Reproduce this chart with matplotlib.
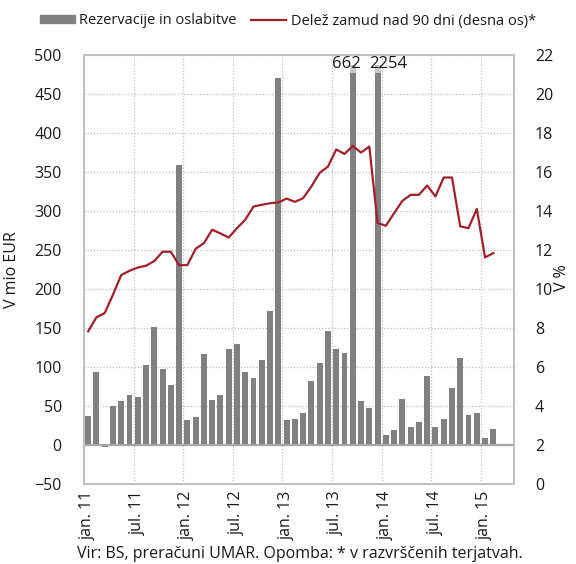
import numpy as np
import matplotlib
matplotlib.use("Agg")
import matplotlib.pyplot as plt
from matplotlib.ticker import MultipleLocator, FixedLocator
from matplotlib.patches import Patch
from matplotlib.lines import Line2D

plt.rcParams['font.family'] = ['Open Sans', 'DejaVu Sans']

# monthly data, jan 2011 - feb 2015 (axis runs through apr 2015)
n_cats = 52
tick_labels = ["jan. 11", "jul. 11", "jan. 12", "jul. 12", "jan. 13",
               "jul. 13", "jan. 14", "jul. 14", "jan. 15"]

# Rezervacije in oslabitve (mio EUR)
provisions = [36, 93, -3, 50, 56, 64, 61, 102, 151, 97, 76, 359,
              31, 35, 116, 57, 64, 122, 129, 93, 86, 108, 172, 471,
              31, 33, 41, 81, 105, 146, 123, 117, 662, 56, 47, 2254,
              12, 19, 59, 22, 29, 88, 22, 33, 72, 111, 38, 40,
              9, 20]

# Delez zamud nad 90 dni (%)
arrears = [7.81, 8.53, 8.75, 9.69, 10.70, 10.92, 11.09, 11.18, 11.42, 11.90, 11.90, 11.21,
           11.21, 12.05, 12.34, 13.03, 12.84, 12.63, 13.11, 13.54, 14.22, 14.31, 14.39, 14.43,
           14.63, 14.46, 14.65, 15.25, 15.95, 16.27, 17.15, 16.92, 17.33, 16.99, 17.30, 13.38,
           13.23, 13.88, 14.51, 14.82, 14.82, 15.30, 14.74, 15.71, 15.71, 13.20, 13.11, 14.10,
           11.61, 11.83]

bar_col = "#808080"
line_col = "#a3202a"
grid_col = "#bfbfbf"
txt_col = "#1a1a1a"

ymin, ymax = -50, 500

fig = plt.figure(figsize=(5.76, 5.64), dpi=100)
ax = fig.add_axes([84/576, 1 - 483.5/564, 430/576, 428.5/564])
ax2 = ax.twinx()

x = np.arange(len(provisions))
vals = np.array(provisions, dtype=float)
clipped = np.minimum(vals, ymax)
ax.bar(x, clipped, width=0.72, color=bar_col, zorder=3)

# broken bars: light band + white label box at the top
big = x[vals > ymax]
ax.bar(big, np.full(len(big), 10), bottom=ymax - 23, width=0.72, color="#c8c8c8", zorder=4)
ax.bar(big, np.full(len(big), 13), bottom=ymax - 13, width=0.74, color="white", zorder=4)
for i in big:
    ha = "right" if i == big[0] else "left"
    xpos = i + 1.0 if ha == "right" else i - 1.0
    ax.text(xpos, ymax - 1, f"{int(vals[i])}", ha=ha, va="top", fontsize=12,
            color=txt_col, zorder=6)

ax.axhline(0, color="#a6a6a6", lw=1.6, zorder=4)

ax.set_xlim(-0.5, n_cats - 0.5)
ax.set_ylim(ymin, ymax)
ax.yaxis.set_major_locator(MultipleLocator(50))
ax.xaxis.set_major_locator(FixedLocator(np.arange(0, 49, 6)))
ax.set_xticklabels(tick_labels, rotation=90)
ax.xaxis.set_minor_locator(FixedLocator(np.arange(0, 49, 6) - 0.5))
ax.grid(axis="y", which="major", color=grid_col, ls=(0, (1, 1.5)), lw=0.9, zorder=0)
ax.grid(axis="x", which="minor", color=grid_col, ls=(0, (1, 1.5)), lw=0.9, zorder=0)
ax.set_axisbelow(True)

ax2.plot(x, arrears, color=line_col, lw=1.6, zorder=5)
ax2.set_ylim(0, 22)
ax2.yaxis.set_major_locator(MultipleLocator(2))

for a in (ax, ax2):
    for s in a.spines.values():
        s.set_color(grid_col)
        s.set_linewidth(1.2)
    a.tick_params(which="both", length=0, labelsize=11.5, colors=txt_col)
ax.tick_params(axis="y", pad=16)
ax.tick_params(axis="x", pad=5)
ax2.tick_params(axis="y", pad=15)

ax.set_ylabel("V mio EUR", fontsize=11.5, color=txt_col)
ax.yaxis.set_label_coords(-0.148, 0.5)
ax2.set_ylabel("V %", fontsize=11.5, rotation=90, color=txt_col, va="center")
ax2.yaxis.set_label_coords((562 - 84) / 430, 0.48)

handles = [Patch(color=bar_col), Line2D([], [], color=line_col, lw=1.6)]
fig.legend(handles, ["Rezervacije in oslabitve", "Delež zamud nad 90 dni (desna os)*"],
           loc="center", bbox_to_anchor=(0.5, 1 - 21/564), ncol=2, frameon=False,
           fontsize=10.5, handlelength=2.4, handleheight=0.5, handletextpad=0.3,
           columnspacing=1.0, labelcolor=txt_col)

fig.text(0.52, 1 - 554/564, "Vir: BS, preračuni UMAR. Opomba: * v razvrščenih terjatvah.",
         ha="center", va="center", fontsize=11.5, color=txt_col)

fig.savefig("out.png", dpi=100)
